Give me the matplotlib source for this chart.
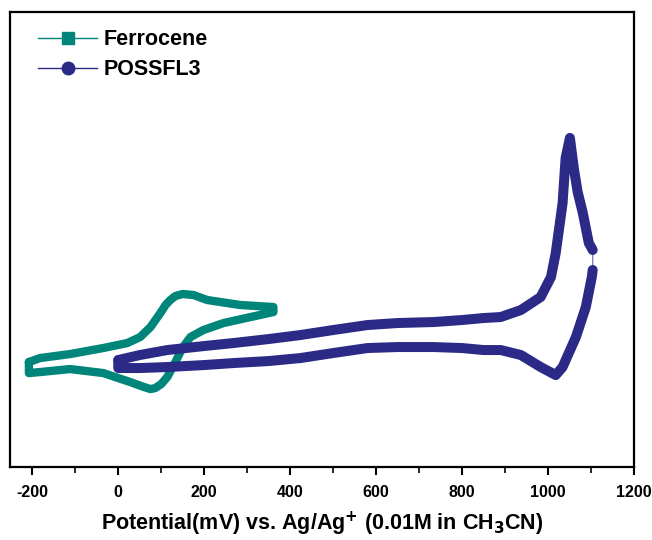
import numpy as np
import matplotlib.pyplot as plt
from matplotlib.lines import Line2D

plt.rcParams['font.family'] = ['Liberation Sans', 'DejaVu Sans']
plt.rcParams['axes.unicode_minus'] = False

# Ferrocene CV loop (potential in mV, current in arbitrary units)
fc_e = [-208, -182, -112, -35, 21, 51, 75, 98, 110, 121, 133, 150, 175, 207, 284, 361,
        361, 308, 245, 198, 168, 149, 133, 114, 100, 86, 75, 60, 28, -35, -112, -182, -208, -208]
fc_i = [105, 109, 113, 119, 124, 130, 140, 154, 162, 167, 171, 173, 172, 167, 162, 160,
        155, 150, 144, 137, 130, 119, 105, 90, 83, 79, 78, 80, 85, 94, 98, 95, 94, 105]

# POSSFL3 CV loop
pf_e = [0, 50, 114, 200, 268, 350, 424, 500, 580, 650, 734, 800, 850, 890, 937, 983,
        1007, 1018, 1034, 1041, 1051, 1060, 1069, 1081, 1095, 1104,
        1104, 1102, 1088, 1065, 1034, 1018, 983, 937, 890, 850, 800, 734, 650, 580,
        500, 424, 350, 268, 200, 114, 50, 0, 0]
pf_i = [107, 112, 117, 121, 124, 128, 132, 137, 142, 144, 145, 147, 149, 150, 157, 170,
        190, 214, 264, 309, 329, 299, 275, 254, 224, 217,
        197, 190, 160, 130, 100, 92, 100, 112, 117, 117, 119, 120, 120, 119,
        114, 109, 106, 104, 102, 100, 99, 99, 107]
turn = 26  # index where the reverse scan starts

teal = '#00857a'
navy = '#2b2a87'

fig = plt.figure(figsize=(6.52, 5.4), dpi=100)
ax = fig.add_axes([0.0153, 0.135, 0.957, 0.843])

ax.plot(fc_e, fc_i, color=teal, lw=6, solid_joinstyle='round', solid_capstyle='round')
ax.plot(pf_e, pf_i, color=navy, lw=1, alpha=0.6)
ax.plot(pf_e[:turn], pf_i[:turn], color=navy, lw=7.2, solid_joinstyle='round', solid_capstyle='round')
ax.plot(pf_e[turn:], pf_i[turn:], color=navy, lw=7.2, solid_joinstyle='round', solid_capstyle='round')

ax.set_xlim(-252, 1200)
ax.set_ylim(0, 455)
ax.set_xticks(np.arange(-200, 1201, 200))
ax.set_xticks(np.arange(-200, 1201, 100), minor=True)
ax.set_yticks([])
ax.tick_params(axis='x', which='major', direction='out', length=6, width=1.5,
               labelsize=11.5, pad=7)
ax.tick_params(axis='x', which='minor', direction='out', length=4, width=1.2)
for lab in ax.get_xticklabels():
    lab.set_fontweight('bold')
for s in ax.spines.values():
    s.set_linewidth(1.6)

ax.set_xlabel('Potential(mV) vs. Ag/Ag$^\\mathbf{+}$ (0.01M in CH$_\\mathbf{3}$CN)',
              fontsize=15.5, fontweight='bold', labelpad=7)

handles = [Line2D([], [], color=teal, lw=1, marker='s', markersize=8),
           Line2D([], [], color=navy, lw=1, marker='o', markersize=9)]
ax.legend(handles, ['Ferrocene', 'POSSFL3'], loc='upper left', frameon=False,
          bbox_to_anchor=(0.0276, 0.985), borderaxespad=0, borderpad=0.5,
          prop={'size': 15.5, 'weight': 'bold'}, handlelength=2.75, handletextpad=0.3,
          labelspacing=0.4)

fig.savefig('out.png', dpi=100)
